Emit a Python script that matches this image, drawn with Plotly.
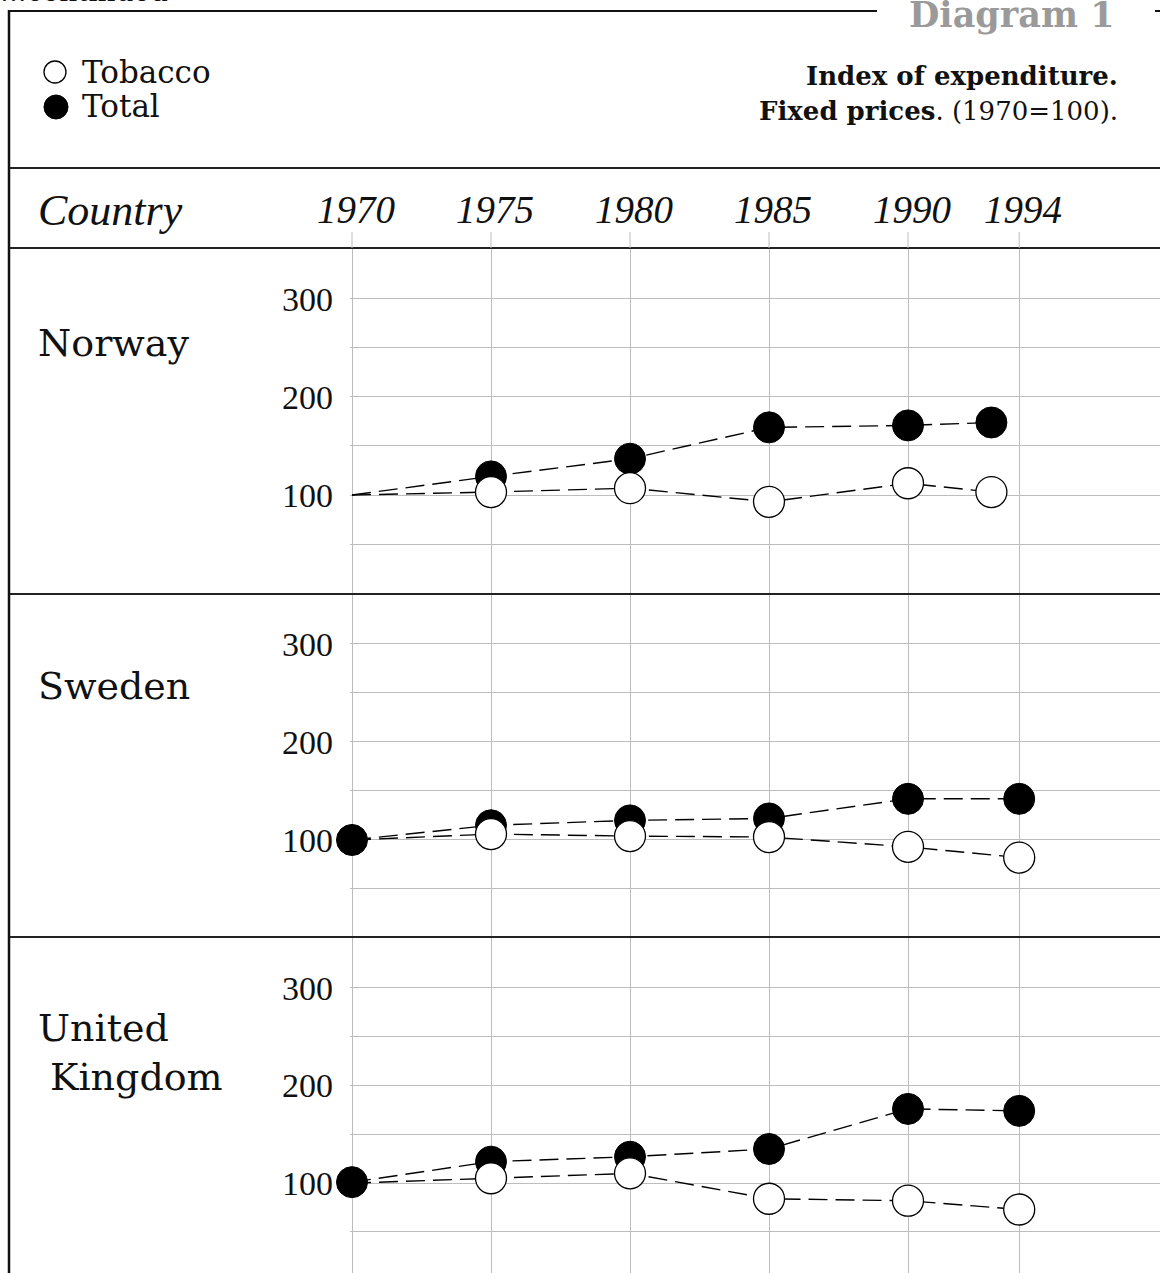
import plotly.graph_objects as go

# ---------------- data ----------------
years = [1970, 1975, 1980, 1985, 1990, 1994]
year_labels = ["1970", "1975", "1980", "1985", "1990", "1994"]
series_names = ["Tobacco", "Total"]
country_labels = ["Norway", "Sweden", "United<br> Kingdom"]

norway_years = [1970, 1975, 1980, 1985, 1990, 1993]
norway_tobacco = [100, 103, 107, 93, 112, 103]
norway_total = [100, 119, 137, 169, 171, 174]

sweden_years = [1970, 1975, 1980, 1985, 1990, 1994]
sweden_tobacco = [100, 106, 104, 103, 93, 82]
sweden_total = [100, 115, 120, 122, 142, 142]

uk_years = [1970, 1975, 1980, 1985, 1990, 1994]
uk_tobacco = [100, 105, 110, 84, 82, 73]
uk_total = [101, 122, 127, 135, 176, 174]

ytick_vals = [50, 100, 150, 200, 250, 300]
ytick_text = ["", "100", "", "200", "", "300"]

# ---------------- layout helpers ----------------
W, H = 1160, 1273
def px(x):
    return x / W
def py(y):
    return 1 - y / H

PX_PER_YEAR = 27.8
X0_PX = 352
x_left = 1970 - 2 / PX_PER_YEAR
x_right = 1970 + (W - X0_PX) / PX_PER_YEAR
x_domain = [px(X0_PX - 2), 1]

SERIF = "DejaVu Serif"
TIMES = "Liberation Serif"
GRID = "#bdbdbd"
DASH = "19px,8px"
MS = 31

panels = [
    dict(x=norway_years, tob=norway_tobacco, tot=norway_total, top=248, bot=594,
         rng=[-1, 352], tot1970=False),
    dict(x=sweden_years, tob=sweden_tobacco, tot=sweden_total, top=594, bot=937,
         rng=[1, 351], tot1970=True),
    dict(x=uk_years, tob=uk_tobacco, tot=uk_total, top=937, bot=1273,
         rng=[8, 352], tot1970=True),
]

fig = go.Figure()
layout = dict(
    width=W, height=H, margin=dict(l=0, r=0, t=0, b=0),
    paper_bgcolor="white", plot_bgcolor="white", showlegend=False,
)

for i, p in enumerate(panels):
    n = i + 1
    xa = "x" if n == 1 else f"x{n}"
    ya = "y" if n == 1 else f"y{n}"
    tot_sizes = [MS if (k > 0 or p["tot1970"]) else 0 for k in range(len(p["x"]))]
    tob_sizes = [MS if k > 0 else 0 for k in range(len(p["x"]))]
    fig.add_trace(go.Scatter(
        x=p["x"], y=p["tot"], name=series_names[1], mode="lines+markers",
        line=dict(color="black", width=1.4, dash=DASH),
        marker=dict(size=tot_sizes, color="black", opacity=1,
                    line=dict(color="black", width=1)),
        xaxis=xa, yaxis=ya, cliponaxis=False,
    ))
    fig.add_trace(go.Scatter(
        x=p["x"], y=p["tob"], name=series_names[0], mode="lines+markers",
        line=dict(color="black", width=1.4, dash=DASH),
        marker=dict(size=tob_sizes, color="white", opacity=1,
                    line=dict(color="black", width=1.3)),
        xaxis=xa, yaxis=ya, cliponaxis=False,
    ))
    xkey = "xaxis" if n == 1 else f"xaxis{n}"
    ykey = "yaxis" if n == 1 else f"yaxis{n}"
    layout[xkey] = dict(
        domain=x_domain, range=[x_left, x_right], anchor=ya,
        tickvals=years, showticklabels=False, showgrid=True, gridcolor=GRID,
        gridwidth=1, zeroline=False, showline=False, ticks="",
    )
    layout[ykey] = dict(
        domain=[py(p["bot"]), py(p["top"])], range=p["rng"], anchor=xa,
        tickvals=ytick_vals, ticktext=ytick_text, showgrid=True, gridcolor=GRID,
        gridwidth=1, zeroline=False, showline=False, ticks="",
        tickfont=dict(family=TIMES, size=34, color="#111"),
        ticklabelstandoff=16,
    )

fig.update_layout(**layout)

shapes = []
# outer frame
shapes.append(dict(type="line", xref="paper", yref="paper", x0=px(9), x1=px(9),
                   y0=py(10), y1=py(H + 2), line=dict(color="#111", width=2.5)))
shapes.append(dict(type="line", xref="paper", yref="paper", x0=px(8), x1=px(877),
                   y0=py(11), y1=py(11), line=dict(color="#111", width=2)))
shapes.append(dict(type="line", xref="paper", yref="paper", x0=px(1155), x1=px(1162),
                   y0=py(11), y1=py(11), line=dict(color="#111", width=2)))
# horizontal separators
for yy in [168, 248, 594, 937]:
    shapes.append(dict(type="line", xref="paper", yref="paper", x0=px(10), x1=px(1162),
                       y0=py(yy), y1=py(yy), line=dict(color="#222", width=2)))
# header ticks of the year grid
for yr in years:
    shapes.append(dict(type="line", xref="x", yref="paper", x0=yr, x1=yr,
                       y0=py(232), y1=py(248), line=dict(color=GRID, width=1)))
# legend symbols
shapes.append(dict(type="circle", xref="paper", yref="paper",
                   x0=px(44), x1=px(66), y0=py(61), y1=py(83),
                   fillcolor="white", line=dict(color="black", width=1.3)))
shapes.append(dict(type="circle", xref="paper", yref="paper",
                   x0=px(44), x1=px(68), y0=py(95), y1=py(119),
                   fillcolor="black", line=dict(color="black", width=1)))
fig.update_layout(shapes=shapes)

ann = []
def text(x, y, s, size, family=SERIF, xanchor="left", color="#111", xref="paper",
         xshift=0, align="left", yanchor="middle"):
    ann.append(dict(x=x, y=py(y), xref=xref, yref="paper", text=s, showarrow=False,
                    xanchor=xanchor, yanchor=yanchor, align=align, xshift=xshift,
                    font=dict(family=family, size=size, color=color)))

text(px(-2), 10, "...continued", 28, yanchor="bottom")
text(px(1117), 14, "<b>Diagram 1</b>", 35, color="#9a9a9a", xanchor="right")
text(px(80), 72, series_names[0], 31)
text(px(80), 106, series_names[1], 31)
text(px(1120), 76, "<b>Index of expenditure.</b>", 26, xanchor="right")
text(px(1120), 111, "<b>Fixed prices</b>. (1970=100).", 26, xanchor="right")
text(px(36), 211, "<i>Country</i>", 44, family=TIMES)
for yr, lab in zip(years, year_labels):
    text(yr, 209, f"<i>{lab}</i>", 39, family=TIMES, xanchor="center", xref="x", xshift=4)
text(px(36), 343, country_labels[0], 38)
text(px(36), 686, country_labels[1], 38)
text(px(36), 1052, country_labels[2], 38)

fig.update_layout(annotations=ann)
fig.write_html("out.html", config={"displayModeBar": False},
               post_script="document.body.style.margin='0';")
